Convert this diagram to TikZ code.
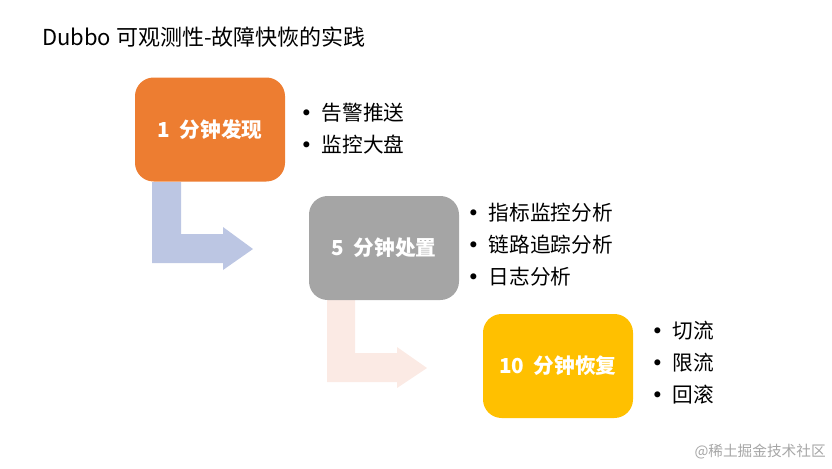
\documentclass[tikz,border=0pt]{standalone}
\usepackage{fontspec}
\setmainfont{Noto Sans CJK SC}
\newfontfamily\bul{DejaVu Sans}
\usetikzlibrary{positioning}
\definecolor{orng}{HTML}{ED7D31}
\definecolor{gry}{HTML}{A5A5A5}
\definecolor{yel}{HTML}{FFC000}
\definecolor{blu}{HTML}{BCC6E3}
\definecolor{pnk}{HTML}{FBEAE4}
\newcommand{\bp}{{\bul •}\hspace{7pt}}
\tikzset{
 stage/.style={rounded corners=14pt, minimum width=112.5pt, minimum height=78pt, text=white, font=\fontsize{15.5}{18}\selectfont\bfseries, inner sep=0pt},
 blist/.style={anchor=north west, align=left, font=\fontsize{15.5}{24}\selectfont, inner sep=0pt},
}
\begin{document}
\begin{tikzpicture}[x=0.75pt,y=-0.75pt]
\useasboundingbox (0,0) rectangle (832,468);
\node[anchor=west, font=\fontsize{16.5}{18}\selectfont, inner sep=0pt] (title) at (42,37) {Dubbo 可观测性-故障快恢的实践};
\fill[blu] (152,182) -- (181,182) -- (181,234) -- (223,234) -- (223,227) -- (253,249) -- (223,270) -- (223,263) -- (152,263) -- cycle;
\fill[pnk] (327,300) -- (355,300) -- (355,353) -- (397,353) -- (397,347) -- (427,368) -- (397,388) -- (397,382) -- (327,382) -- cycle;
\node[stage, fill=orng] (s1) at (210,129.5) {1\ \ 分钟发现};
\node[stage, fill=gry] (s2) at (384,248) {5\ \ 分钟处置};
\node[stage, fill=yel] (s3) at (558,366) {10\ \ 分钟恢复};
\node[blist] (l1) at (300,103) {\bp 告警推送\\\bp 监控大盘};
\node[blist] (l2) at (467,203) {\bp 指标监控分析\\\bp 链路追踪分析\\\bp 日志分析};
\node[blist] (l3) at (651,321) {\bp 切流\\\bp 限流\\\bp 回滚};
\node[anchor=east, text=gray!70, font=\fontsize{11}{13}\selectfont, inner sep=0pt] (wm) at (826,452) {@稀土掘金技术社区};
\end{tikzpicture}
\end{document}
